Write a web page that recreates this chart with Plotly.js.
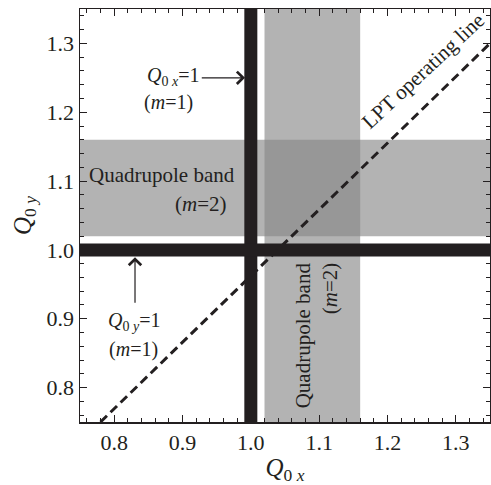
<!DOCTYPE html>
<html>
<head>
<meta charset="utf-8">
<script src="https://cdn.plot.ly/plotly-3.0.1.min.js"></script>
<style>html,body{margin:0;padding:0;background:#fff;}#chart{width:491px;height:485px;}</style>
</head>
<body>
<div id="chart"></div>
<script>
// Data
const axisRange = [0.75, 1.35];
const tickVals = [0.8, 0.9, 1.0, 1.1, 1.2, 1.3];
const tickText = ['0.8', '0.9', '1.0', '1.1', '1.2', '1.3'];
const resonanceQ = 1.0;          // integer resonance Q0x=1 and Q0y=1 (m=1)
const quadBand = [1.02, 1.16];   // quadrupole band (m=2)
const lptX = [0.78, 1.35];       // LPT operating line
const lptY = [0.75, 1.30];

const FONT = 'Liberation Serif, Times New Roman, serif';
const INK = '#231f20';
const BAND = '#b3b3b3';
const OVER = '#979797';

const traces = [
  { x: [resonanceQ, resonanceQ], y: axisRange, mode: 'lines', line: {color: INK, width: 13}, hoverinfo: 'skip' },
  { x: axisRange, y: [resonanceQ, resonanceQ], mode: 'lines', line: {color: INK, width: 13}, hoverinfo: 'skip' },
  { x: lptX, y: lptY, mode: 'lines', line: {color: INK, width: 3, dash: '9px,5px'}, hoverinfo: 'skip' }
];

const shapes = [
  { type: 'rect', xref: 'paper', yref: 'y', x0: 0, x1: 1, y0: quadBand[0], y1: quadBand[1], fillcolor: BAND, line: {width: 0}, layer: 'below' },
  { type: 'rect', xref: 'x', yref: 'paper', x0: quadBand[0], x1: quadBand[1], y0: 0, y1: 1, fillcolor: BAND, line: {width: 0}, layer: 'below' },
  { type: 'rect', xref: 'x', yref: 'y', x0: quadBand[0], x1: quadBand[1], y0: quadBand[0], y1: quadBand[1], fillcolor: OVER, line: {width: 0}, layer: 'below' }
];

const af = {family: FONT, size: 21, color: INK};
const sf = {family: FONT, size: 20, color: INK};
const annotations = [
  // Q0x = 1 arrow
  { x: 0.9915, y: 1.25, ax: 0.926, ay: 1.25, axref: 'x', ayref: 'y', xref: 'x', yref: 'y', text: '', showarrow: true, arrowhead: 4, arrowsize: 2, arrowwidth: 1.2, arrowcolor: INK, standoff: 0 },
  { x: 0.925, y: 1.252, xref: 'x', yref: 'y', xanchor: 'right', yanchor: 'middle', text: '<i>Q</i><sub>0 <i>x</i></sub>=1', showarrow: false, font: sf, borderpad: 0 },
  { x: 0.880, y: 1.214, xref: 'x', yref: 'y', text: '(<i>m</i>=1)', showarrow: false, font: sf, borderpad: 0 },
  // Q0y = 1 arrow
  { x: 0.8305, y: 0.9895, ax: 0.8305, ay: 0.921, axref: 'x', ayref: 'y', xref: 'x', yref: 'y', text: '', showarrow: true, arrowhead: 4, arrowsize: 2, arrowwidth: 1.2, arrowcolor: INK, standoff: 0 },
  { x: 0.829, y: 0.896, xref: 'x', yref: 'y', text: '<i>Q</i><sub>0 <i>y</i></sub>=1', showarrow: false, font: sf, borderpad: 0 },
  { x: 0.8276, y: 0.856, xref: 'x', yref: 'y', text: '(<i>m</i>=1)', showarrow: false, font: sf, borderpad: 0 },
  // horizontal quadrupole band
  { x: 0.870, y: 1.109, xref: 'x', yref: 'y', text: 'Quadrupole band', showarrow: false, font: af },
  { x: 0.968, y: 1.067, xref: 'x', yref: 'y', xanchor: 'right', text: '(<i>m</i>=2)', showarrow: false, font: af },
  // vertical quadrupole band
  { x: 1.0764, y: 0.876, xref: 'x', yref: 'y', text: 'Quadrupole band', textangle: -90, showarrow: false, font: af },
  { x: 1.117, y: 0.944, xref: 'x', yref: 'y', text: '(<i>m</i>=2)', textangle: -90, showarrow: false, font: af },
  // LPT operating line
  { x: 1.252, y: 1.260, xref: 'x', yref: 'y', text: 'LPT operating line', textangle: -43, showarrow: false, font: af, borderpad: 0 }
];

const axisCommon = {
  range: axisRange, tickvals: tickVals, ticktext: tickText,
  ticks: 'inside', ticklen: 7, tickwidth: 1, tickcolor: INK,
  minor: {dtick: 0.02, tick0: 0.8, ticks: 'inside', ticklen: 4, tickwidth: 1, tickcolor: INK},
  showline: true, linecolor: INK, linewidth: 1.5, mirror: 'ticks',
  showgrid: false, zeroline: false,
  tickfont: {family: FONT, size: 22, color: INK}
};

const layout = {
  width: 491, height: 485,
  margin: {l: 80, r: 1, t: 9, b: 63},
  paper_bgcolor: '#fff', plot_bgcolor: '#fff',
  showlegend: false,
  xaxis: Object.assign({}, axisCommon, {title: {text: '<i>Q</i><sub>0 <i>x</i></sub>', font: {family: FONT, size: 25, color: INK}, standoff: 8}}),
  yaxis: Object.assign({}, axisCommon, {title: {text: '<i>Q</i><sub>0 <i>y</i></sub>', font: {family: FONT, size: 25, color: INK}, standoff: 8}}),
  shapes: shapes,
  annotations: annotations
};

Plotly.newPlot('chart', traces, layout, {staticPlot: true, displayModeBar: false});
</script>
</body>
</html>
